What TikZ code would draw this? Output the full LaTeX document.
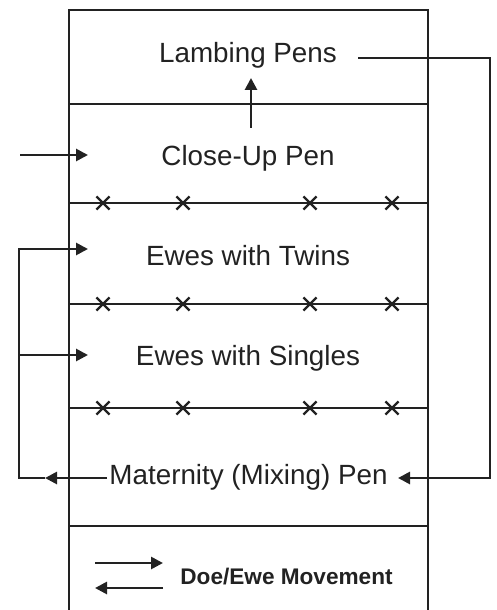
\documentclass[tikz,border=0pt]{standalone}
\usepackage{fontspec}
\setmainfont{Liberation Sans}
\usetikzlibrary{arrows.meta,shapes.misc}
\definecolor{ink}{HTML}{222222}
\tikzset{
  wall/.style={draw=ink, line width=1.15pt},
  flow/.style={draw=ink, line width=1.35pt, -{Triangle[length=6pt,width=6pt]}},
  penlabel/.style={text=ink, inner sep=0pt, anchor=base, font=\fontsize{13.9}{16}\selectfont},
  keylabel/.style={text=ink, inner sep=0pt, anchor=base west, font=\fontsize{11.3}{13}\selectfont\bfseries},
  xmark/.style={cross out, draw=ink, line width=1.1pt, minimum size=5.5pt, inner sep=0pt},
}
\begin{document}
\begin{tikzpicture}[x=0.5pt, y=-0.5pt]
\useasboundingbox (0,0) rectangle (497,610);

% barn outline, open at the bottom
\draw[wall] (69,610) -- (69,10) -- (428,10) -- (428,610);
\draw[wall] (69,104) -- (428,104);
\draw[wall] (69,526) -- (428,526);

% fence lines with gates
\foreach \y in {203,304,408} {
  \draw[wall] (69,\y) -- (428,\y);
  \foreach \x in {103,183,310,392}
    \node[xmark] at (\x,\y) {};
}

% pen names
\node[penlabel] (lamb)   at (248,63)  {Lambing Pens};
\node[penlabel] (close)  at (248,165) {Close-Up Pen};
\node[penlabel] (twins)  at (248,265) {Ewes with Twins};
\node[penlabel] (single) at (248,365) {Ewes with Singles};
\node[penlabel] (mat)    at (248.5,484) {Maternity (Mixing) Pen};

% turning points of the movement paths
\coordinate (inClose)  at (20,155);
\coordinate (tipClose) at (88,155);
\coordinate (upFrom)   at (251,128);
\coordinate (upTo)     at (251,78);
\coordinate (lambOut)  at (358,58);
\coordinate (rightTop) at (490,58);
\coordinate (rightBot) at (490,478);
\coordinate (matIn)    at (398,478);
\coordinate (matOut)   at (107,478);
\coordinate (leftTip)  at (45,478);
\coordinate (leftBot)  at (19,478);
\coordinate (leftTw)   at (19,249);
\coordinate (tipTw)    at (88,249);
\coordinate (leftSg)   at (19,355);
\coordinate (tipSg)    at (88,355);

% movement arrows
\draw[flow] (inClose) -- (tipClose);
\draw[flow] (upFrom) -- (upTo);
\draw[flow] (lambOut) -- (rightTop) -- (rightBot) -- (matIn);
\draw[flow] (matOut) -- (leftTip);
\draw[flow] (leftTip) -- (leftBot) -- (leftTw) -- (tipTw);
\draw[flow] (leftSg) -- (tipSg);

% legend
\coordinate (kA) at (95,563);
\coordinate (kB) at (163,563);
\coordinate (kC) at (163,588);
\coordinate (kD) at (95,588);
\draw[flow] (kA) -- (kB);
\draw[flow] (kC) -- (kD);
\node[keylabel] (key) at (180,584) {Doe/Ewe Movement};
\end{tikzpicture}
\end{document}
